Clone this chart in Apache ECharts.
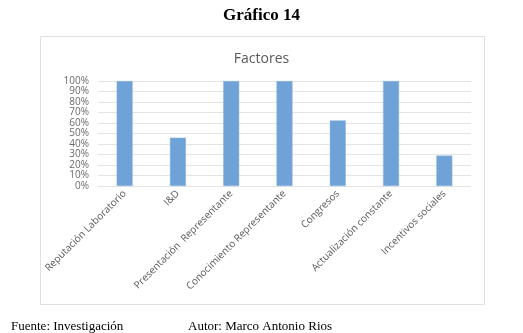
<!DOCTYPE html>
<html>
<head>
<meta charset="utf-8">
<script src="https://cdn.jsdelivr.net/npm/echarts@6/dist/echarts.min.js"></script>
<style>
  html, body { margin: 0; padding: 0; background: #fff; }
  #chart { width: 523px; height: 333px; }
</style>
</head>
<body>
<div id="chart"></div>
<script>
// categorias y valores (%)
var factores = ['Reputación Laboratorio', 'I&D', 'Presentación  Representante',
  'Conocimiento Representante', 'Congresos', 'Actualización constante', 'Incentivos sociales'];
var porcentajes = [100, 46, 100, 100, 62.5, 100, 29];

var chart = echarts.init(document.getElementById('chart'));

var option = {
  animation: false,
  title: [
    {
      text: 'Gráfico 14',
      left: 'center',
      top: 2,
      textStyle: { fontFamily: 'Liberation Serif', fontWeight: 'bold', fontSize: 17, color: '#000' }
    },
    {
      text: 'Factores',
      left: 'center',
      top: 47,
      textStyle: { fontFamily: 'Open Sans', fontWeight: 'normal', fontSize: 14, color: '#595959' }
    },
    {
      text: 'Fuente: Investigación',
      left: 6,
      top: 315,
      textStyle: { fontFamily: 'Liberation Serif', fontWeight: 'normal', fontSize: 13, color: '#000' }
    },
    {
      text: 'Autor: Marco Antonio Rios',
      left: 183,
      top: 315,
      textStyle: { fontFamily: 'Liberation Serif', fontWeight: 'normal', fontSize: 13, color: '#000' }
    }
  ],
  graphic: [{
    type: 'rect',
    shape: { x: 40.5, y: 36.5, width: 444, height: 268 },
    style: { fill: 'none', stroke: '#e3e0dc', lineWidth: 1 },
    silent: true
  }],
  grid: {
    left: 98,
    right: 52,
    top: 81,
    bottom: 147
  },
  xAxis: {
    type: 'category',
    data: factores,
    axisLine: { show: false },
    axisTick: { show: false },
    axisLabel: {
      rotate: 45,
      interval: 0,
      margin: 6,
      fontFamily: 'Open Sans',
      fontSize: 10,
      color: '#595959'
    }
  },
  yAxis: {
    type: 'value',
    min: 0,
    max: 100,
    interval: 10,
    axisLine: { show: false },
    axisTick: { show: false },
    axisLabel: {
      formatter: '{value}%',
      margin: 9,
      fontFamily: 'Open Sans',
      fontSize: 10,
      color: '#6b6b6b'
    },
    splitLine: { lineStyle: { color: '#e4e4e4', width: 1 } }
  },
  series: [{
    type: 'bar',
    data: porcentajes,
    barWidth: 16,
    itemStyle: { color: '#6fa2d6', borderColor: '#8fb6e0', borderWidth: 0.5 }
  }]
};

chart.setOption(option);
</script>
</body>
</html>
